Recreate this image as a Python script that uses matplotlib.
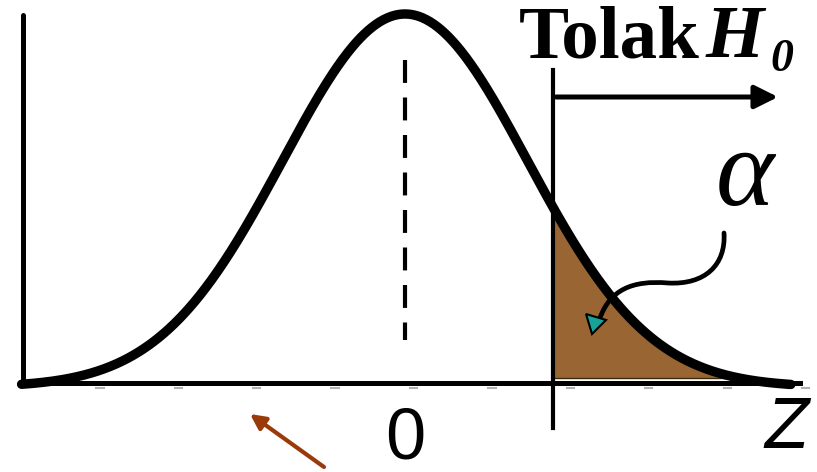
import numpy as np
import matplotlib
matplotlib.use("Agg")
import matplotlib.pyplot as plt
from matplotlib.path import Path
from matplotlib.patches import PathPatch

# ---- data ----
mean = 0.0
sd = 1.0
z_crit = 1.21          # critical value (start of rejection region)
z_min, z_max = -3.13, 3.15
center_label = "0"
axis_label = "Z"
reject_label = "Tolak"
alpha_label = "α"
minor_ticks = [-2.49, -1.85, -1.21, -0.57, 0.07, 0.71, 1.35, 1.99, 2.63, 3.27]

# pixel -> data mapping helpers (figure 817x472)
W, H = 817, 472
cx, spx = 405.0, 122.5     # px of mean, px per sd
base_py, peak_py = 383.0, 14.0
amp_px = base_py - peak_py

def X(px):
    return (px - cx) / spx

def Y(py):
    return (base_py - py) / amp_px

fig = plt.figure(figsize=(W / 100, H / 100), dpi=100)
ax = fig.add_axes([0, 0, 1, 1])
ax.set_xlim(X(0), X(W))
ax.set_ylim(Y(H), Y(0))
ax.axis("off")

z = np.linspace(z_min, z_max, 600)
pdf = np.exp(-0.5 * ((z - mean) / sd) ** 2)
offset = -0.011
curve = pdf * (1 - offset) + offset

# shaded rejection region
zs = np.linspace(z_crit, 2.75, 200)
ps = np.exp(-0.5 * ((zs - mean) / sd) ** 2) * (1 - offset) + offset
ax.fill_between(zs, Y(378), ps, where=ps > Y(378), color="#996633",
                edgecolor="#3a2a10", linewidth=1.0, zorder=2)

# axes lines
ax.plot([X(23), X(23)], [Y(15), Y(383)], color="black", lw=3.6,
        solid_capstyle="round", zorder=3)
ax.plot([X(22), X(800)], [0, 0], color="black", lw=3.6, zorder=3)

# small gray ticks
for t in minor_ticks:
    ax.plot([t - 0.03, t + 0.03], [Y(388), Y(388)], color="#b0b0b0", lw=1.5, zorder=1)

# curve
ax.plot(z, curve, color="black", lw=6.8, solid_capstyle="round", zorder=4)

# dashed center line
ax.plot([mean, mean], [Y(60), Y(340)], color="black", lw=3.0,
        dashes=(5.5, 3.5), zorder=3)

# critical line
ax.plot([z_crit, z_crit], [Y(70), Y(428)], color="black", lw=3.0, zorder=5)

# Tolak H0 arrow
ax.annotate("", xy=(X(778), Y(97)), xytext=(X(556), Y(97)),
            arrowprops=dict(arrowstyle="-|>,head_length=1.4,head_width=0.7",
                            color="black", lw=3.6, shrinkA=0, shrinkB=0), zorder=5)

serif = ["Liberation Serif", "DejaVu Serif"]
fig.text(519 / W, 1 - 39 / H, reject_label, family=serif, fontweight="bold",
         fontsize=54, ha="left", va="center")
fig.text(706 / W, 1 - 39 / H, "H", family=serif, fontweight="bold",
         style="italic", fontsize=54, ha="left", va="center")
fig.text(770 / W, 1 - 60 / H, "0", family=serif, fontweight="bold",
         style="italic", fontsize=33, ha="left", va="center")

# alpha
fig.text(745 / W, 1 - 178 / H, alpha_label, family=serif, style="italic",
         fontsize=80, ha="center", va="center")

# curved arrow to region
verts = [(X(724), Y(233)), (X(726), Y(265)), (X(705), Y(285)), (X(668), Y(283)),
         (X(632), Y(280)), (X(610), Y(290)), (X(600), Y(318))]
codes = [Path.MOVETO, Path.CURVE4, Path.CURVE4, Path.CURVE4,
         Path.CURVE4, Path.CURVE4, Path.CURVE4]
ax.add_patch(PathPatch(Path(verts, codes), fill=False, lw=3.4, color="black",
                       capstyle="round", zorder=6))
tri = plt.Polygon([(X(586), Y(314)), (X(606), Y(320)), (X(592), Y(334))],
                  closed=True, facecolor="#17a398", edgecolor="black", lw=1.5, zorder=7)
ax.add_patch(tri)

# labels
sans = ["Liberation Sans", "DejaVu Sans"]
ax.text(mean, Y(440), center_label, family=sans, fontsize=52, ha="center", va="center")
ax.text(X(786), Y(429), axis_label, family=sans, fontsize=52, ha="center",
        va="center", style="italic")

# brown arrow
ax.annotate("", xy=(X(250), Y(414)), xytext=(X(324), Y(467)),
            arrowprops=dict(arrowstyle="-|>,head_length=0.9,head_width=0.45",
                            color="#9a3a0a", lw=3.0, shrinkA=0, shrinkB=0), zorder=5)

fig.savefig("out.png", dpi=100)
